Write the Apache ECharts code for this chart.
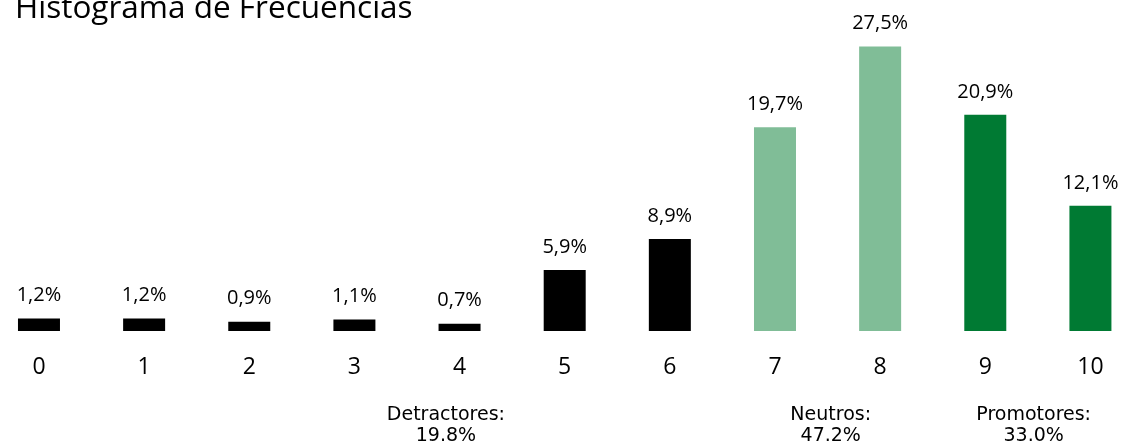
<!DOCTYPE html>
<html><head><meta charset="utf-8">
<script src="https://cdn.jsdelivr.net/npm/echarts@6/dist/echarts.min.js"></script>
<style>html,body{margin:0;padding:0;background:#fff}#c{width:1122px;height:448px}</style>
</head><body><div id="c"></div>
<script>
const categories = ['0','1','2','3','4','5','6','7','8','9','10'];
const values = [1.2, 1.2, 0.9, 1.1, 0.7, 5.9, 8.9, 19.7, 27.5, 20.9, 12.1];
const groupOf = ['D','D','D','D','D','D','D','N','N','P','P'];
const groupColors = {D:'#000000', N:'#80BD97', P:'#007A33'};
const summaryLabels = ['Detractores:', 'Neutros:', 'Promotores:'];
const summaryValues = ['19.8%', '47.2%', '33.0%'];
const summaryPos = [3.87, 7.53, 9.46];

const chart = echarts.init(document.getElementById('c'));
const gridLeft = -13.6, gridWidth = 1156.6;
const option = {
  animation: false,
  title: {
    text: 'Histograma de Frecuencias', left: 10, top: -12,
    textStyle: {fontFamily: 'Open Sans', fontSize: 31.5, fontWeight: 'normal', color: '#000'}
  },
  grid: {left: gridLeft, width: gridWidth, top: 0, bottom: 117, containLabel: false, outerBoundsMode: 'none'},
  xAxis: {
    type: 'category', data: categories,
    axisLine: {show: false}, axisTick: {show: false},
    axisLabel: {margin: 25, fontFamily: 'Open Sans', fontSize: 23, color: '#000'}
  },
  yAxis: {type: 'value', min: 0, max: 32, show: false, splitLine: {show: false}},
  series: [{
    type: 'bar', barWidth: 42,
    data: values.map((v, i) => ({value: v, itemStyle: {color: groupColors[groupOf[i]]}})),
    label: {
      show: true, position: 'top', distance: 13,
      fontFamily: 'Open Sans', fontSize: 20, color: '#000',
      formatter: p => p.value.toFixed(1).replace('.', ',') + '%'
    }
  }]
};
chart.setOption(option);
const bandW = gridWidth / categories.length;
const graphics = summaryLabels.map((t, i) => {
  const x = gridLeft + bandW * (summaryPos[i] + 0.5);
  return {type: 'text', x: x, y: 426, style: {text: t + '\n' + summaryValues[i], align: 'center', verticalAlign: 'middle',
    font: '19px "DejaVu Sans", sans-serif', fill: '#000', lineHeight: 21}};
});
chart.setOption({graphic: graphics});
</script></body></html>
